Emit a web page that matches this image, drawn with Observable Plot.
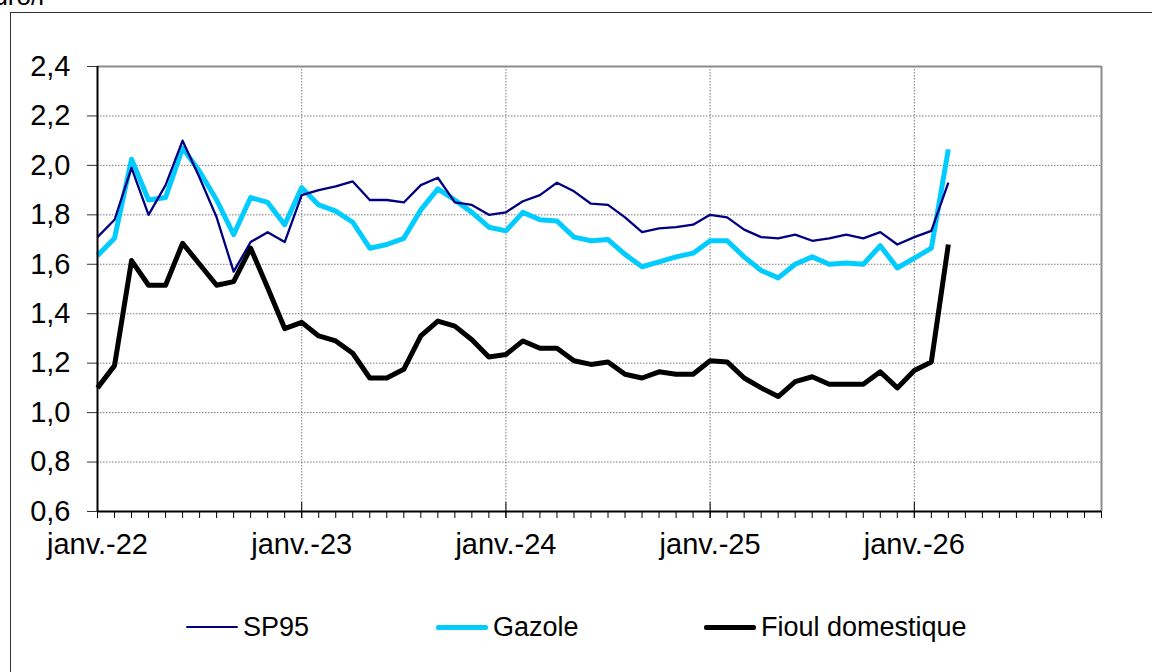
<!DOCTYPE html>
<html>
<head>
<meta charset="utf-8">
<script src="https://cdn.jsdelivr.net/npm/d3@7"></script>
<script src="https://cdn.jsdelivr.net/npm/@observablehq/plot@0.6"></script>
<style>
  html, body { margin: 0; padding: 0; background: #fff; overflow: hidden; width: 1152px; height: 672px;
    font-family: "Liberation Sans", Arial, sans-serif; }
  #frame { position: absolute; left: 10px; top: 12px; width: 1200px; height: 700px;
    border-left: 1px solid #333; border-top: 1px solid #333; }
  #unit { position: absolute; right: 1108px; top: -17px; font-size: 26px; line-height: 1; white-space: nowrap; }
  #chart { position: absolute; left: 0; top: 0; }
  .leg { position: absolute; top: 612px; height: 30px; display: flex; align-items: center;
    font-size: 27px; white-space: nowrap; }
  .sw { width: 52px; margin-right: 5px; }
</style>
</head>
<body>
<div id="unit">En euro/l</div>
<div id="frame"></div>
<div id="chart"></div>
<div id="legend"></div>
<script>
// ---- Data (monthly, janv. 2022 = index 0 ... mars 2026 = index 50) ----
const xDomainMonths = 60; // axis runs janv.-22 .. déc.-26
const xTickIdx = [0, 12, 24, 36, 48];
const xTickLabels = ["janv.-22", "janv.-23", "janv.-24", "janv.-25", "janv.-26"];
const yTicks = [0.6, 0.8, 1.0, 1.2, 1.4, 1.6, 1.8, 2.0, 2.2, 2.4];

const seriesNames = ["SP95", "Gazole", "Fioul domestique"];
const seriesColors = ["#000080", "#00ccff", "#000000"];
const seriesWidths = [2.3, 5, 5];

const sp95 = [1.71, 1.78, 1.99, 1.80, 1.92, 2.10, 1.95, 1.79, 1.57, 1.69, 1.73, 1.69,
              1.88, 1.90, 1.915, 1.935, 1.86, 1.86, 1.85, 1.92, 1.95, 1.85, 1.84, 1.80,
              1.81, 1.855, 1.88, 1.93, 1.895, 1.845, 1.84, 1.79, 1.73, 1.745, 1.75, 1.76,
              1.80, 1.79, 1.74, 1.71, 1.705, 1.72, 1.695, 1.705, 1.72, 1.705, 1.73, 1.68,
              1.71, 1.735, 1.93];
const gazole = [1.635, 1.705, 2.025, 1.86, 1.87, 2.07, 1.975, 1.86, 1.72, 1.87, 1.85, 1.76,
                1.91, 1.84, 1.815, 1.77, 1.665, 1.68, 1.705, 1.82, 1.905, 1.86, 1.81, 1.75,
                1.735, 1.81, 1.78, 1.775, 1.71, 1.695, 1.70, 1.64, 1.59, 1.61, 1.63, 1.645,
                1.695, 1.695, 1.63, 1.575, 1.545, 1.60, 1.63, 1.60, 1.605, 1.60, 1.675, 1.585,
                1.625, 1.665, 2.065];
const fioul = [1.10, 1.19, 1.615, 1.515, 1.515, 1.685, 1.60, 1.515, 1.53, 1.665, 1.505, 1.34,
               1.365, 1.31, 1.29, 1.24, 1.14, 1.14, 1.175, 1.31, 1.37, 1.35, 1.295, 1.225,
               1.235, 1.29, 1.26, 1.26, 1.21, 1.195, 1.205, 1.155, 1.14, 1.165, 1.155, 1.155,
               1.21, 1.205, 1.14, 1.10, 1.065, 1.125, 1.145, 1.115, 1.115, 1.115, 1.165, 1.10,
               1.17, 1.205, 1.68];

const rows = (vals) => vals.map((v, i) => ({i, v}));

const gridStyle = {stroke: "#7a7a7a", strokeOpacity: 1, strokeWidth: 1, strokeDasharray: "1.5,1.5"};
const fontFam = "Liberation Sans, Arial, sans-serif";
const axisFont = 29;

const chart = Plot.plot({
  width: 1152,
  height: 572,
  marginLeft: 97,
  marginRight: 51,
  marginTop: 66,
  marginBottom: 61,
  style: {fontFamily: fontFam, fontSize: axisFont + "px", color: "#000", background: "transparent", overflow: "visible"},
  x: {domain: [0, xDomainMonths - 1], label: null},
  y: {domain: [yTicks[0], yTicks[yTicks.length - 1]], label: null},
  marks: [
    Plot.gridY(yTicks.slice(1, -1), gridStyle),
    Plot.gridX(xTickIdx.slice(1), gridStyle),
    Plot.ruleY([yTicks[yTicks.length - 1]], {stroke: "#8c8c8c", strokeWidth: 2}),
    Plot.ruleX([xDomainMonths - 1], {stroke: "#8c8c8c", strokeWidth: 2}),
    // lines
    Plot.line(rows(gazole), {x: "i", y: "v", stroke: seriesColors[1], strokeWidth: seriesWidths[1], strokeLinejoin: "round", strokeLinecap: "butt"}),
    Plot.line(rows(sp95), {x: "i", y: "v", stroke: seriesColors[0], strokeWidth: seriesWidths[0], strokeLinejoin: "round", strokeLinecap: "butt"}),
    Plot.line(rows(fioul), {x: "i", y: "v", stroke: seriesColors[2], strokeWidth: seriesWidths[2], strokeLinejoin: "round", strokeLinecap: "butt"}),
    // axes
    Plot.axisY(yTicks, {anchor: "left", tickSize: 10, tickPadding: 17, stroke: "#333", fill: "#000",
      fontSize: axisFont, tickFormat: d => d.toFixed(1).replace(".", ","), label: null}),
    Plot.axisX(d3.range(0, xDomainMonths), {anchor: "bottom", tickSize: 7, stroke: "#000",
      tickFormat: () => "", label: null}),
    Plot.axisX(xTickIdx, {anchor: "bottom", tickSize: 16, dy: -9, stroke: "#000",
      tickFormat: () => "", label: null}),
    Plot.axisX(xTickIdx, {anchor: "bottom", tickSize: 0, tickPadding: 22, fill: "#000", fontSize: axisFont,
      tickFormat: d => xTickLabels[xTickIdx.indexOf(d)], label: null}),
    Plot.ruleX([0], {stroke: "#000", strokeWidth: 2}),
    Plot.ruleY([yTicks[0]], {stroke: "#000", strokeWidth: 2})
  ]
});
document.getElementById("chart").appendChild(chart);

// ---- Legend (HTML, below the plot area) ----
const legendLefts = [186, 436, 704];
const legend = document.getElementById("legend");
seriesNames.forEach((name, k) => {
  const item = document.createElement("div");
  item.className = "leg";
  item.style.left = legendLefts[k] + "px";
  const sw = document.createElement("div");
  sw.className = "sw";
  sw.style.height = seriesWidths[k] + "px";
  sw.style.background = seriesColors[k];
  sw.style.borderRadius = "2px";
  const t = document.createElement("span");
  t.textContent = name;
  item.appendChild(sw);
  item.appendChild(t);
  legend.appendChild(item);
});
</script>
</body>
</html>
